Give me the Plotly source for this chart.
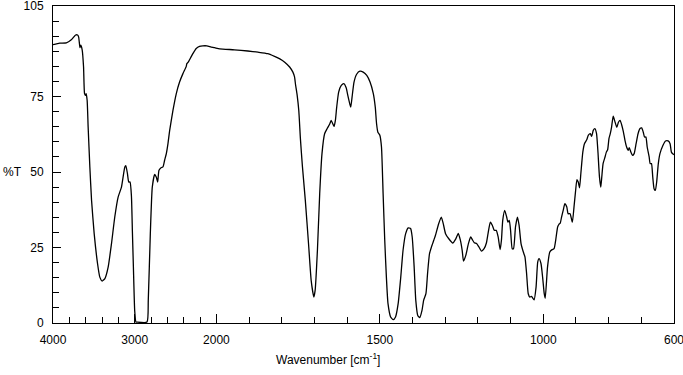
import plotly.graph_objects as go

# Spectrum data (wavenumber cm-1, %T)
wavenumber = [
    4000, 3918, 3837, 3776, 3723, 3699, 3686, 3670, 3661, 3643, 3626, 3614, 3602, 3594, 3582, 3570,
    3549, 3528, 3496, 3455, 3427, 3398, 3365, 3325, 3284, 3244, 3203, 3162, 3121, 3109, 3089, 3073,
    3057, 3040, 3028, 3016, 3000, 2985, 2979, 2850, 2834, 2809, 2785, 2756, 2735, 2719, 2703, 2674,
    2654, 2634, 2613, 2593, 2572, 2532, 2491, 2451, 2410, 2369, 2362, 2345, 2329, 2288, 2247, 2207,
    2166, 2117, 2064, 2024, 1990, 1945, 1904, 1873, 1843, 1822, 1806, 1791, 1776, 1766, 1761, 1758,
    1753, 1748, 1743, 1737, 1728, 1718, 1710, 1702, 1698, 1691, 1684, 1677, 1669, 1661, 1653, 1649,
    1644, 1640, 1636, 1632, 1626, 1618, 1610, 1603, 1598, 1592, 1589, 1585, 1579, 1571, 1561, 1551,
    1540, 1530, 1520, 1514, 1510, 1506, 1500, 1495, 1490, 1485, 1480, 1475, 1467, 1459, 1452, 1444,
    1436, 1429, 1421, 1413, 1406, 1401, 1395, 1390, 1384, 1378, 1371, 1366, 1359, 1354, 1348, 1342,
    1335, 1330, 1320, 1312, 1306, 1299, 1289, 1277, 1268, 1260, 1254, 1248, 1244, 1237, 1229, 1222,
    1217, 1211, 1204, 1197, 1189, 1181, 1174, 1169, 1162, 1156, 1150, 1144, 1138, 1132, 1128, 1124,
    1118, 1112, 1108, 1104, 1100, 1095, 1091, 1085, 1079, 1074, 1068, 1061, 1056, 1051, 1046, 1041,
    1036, 1028, 1022, 1017, 1013, 1007, 1002, 997, 994, 987, 980, 973, 967, 962, 956, 952,
    948, 944, 939, 934, 928, 924, 918, 911, 906, 901, 897, 893, 889, 885, 879, 874,
    867, 862, 856, 852, 847, 842, 837, 833, 828, 824, 821, 817, 811, 807, 803, 799,
    795, 791, 786, 781, 775, 770, 765, 760, 755, 750, 745, 740, 737, 732, 727, 722,
    716, 710, 704, 699, 694, 690, 686, 682, 676, 673, 669, 665, 661, 657, 653, 648,
    643, 634, 626, 618, 612, 608, 602, 600,
]
transmittance = [
    92.2, 92.7, 92.8, 93.8, 95.4, 95.4, 94.7, 91.2, 92.0, 90.5, 84.8, 76.0, 75.4, 76.0, 73.7, 64.9,
    51.7, 40.6, 29.6, 19.7, 15.2, 13.9, 14.7, 18.5, 26.3, 35.1, 41.7, 45.0, 51.7, 52.1, 49.5, 46.7,
    46.7, 42.0, 30.0, 18.5, 4.0, 0.3, 0.3, 0.3, 7.5, 29.6, 45.0, 49.2, 48.3, 46.7, 50.6, 51.5,
    51.7, 53.9, 56.1, 59.4, 63.8, 70.4, 76.0, 79.8, 82.6, 85.0, 85.9, 86.4, 87.2, 89.2, 90.9, 91.6,
    91.8, 91.8, 91.4, 91.2, 90.8, 90.5, 90.1, 89.7, 89.2, 88.3, 87.5, 86.4, 84.8, 83.1, 81.5, 79.0,
    75.5, 70.4, 61.0, 52.0, 40.6, 26.0, 14.0, 8.6, 10.8, 24.1, 42.8, 56.1, 62.7, 64.4, 66.0, 67.1,
    66.0, 65.1, 67.1, 71.5, 76.5, 78.7, 79.3, 77.9, 75.4, 72.6, 71.5, 74.8, 79.8, 82.4, 83.4, 83.1,
    82.0, 79.8, 76.0, 71.5, 66.0, 63.2, 62.2, 58.3, 42.8, 27.4, 15.2, 6.4, 2.0, 1.1, 2.0, 6.4,
    15.2, 24.1, 29.6, 31.5, 31.3, 28.5, 18.5, 7.5, 2.5, 1.8, 4.2, 7.5, 9.7, 16.4, 23.0, 25.2,
    27.4, 29.0, 32.9, 35.1, 32.9, 29.6, 27.9, 26.5, 27.8, 29.7, 27.6, 24.0, 20.5, 22.4, 26.3, 28.5,
    27.6, 26.6, 26.3, 25.2, 23.8, 24.6, 26.5, 29.6, 33.4, 32.4, 30.7, 30.7, 28.5, 24.3, 27.4, 34.0,
    37.3, 35.1, 33.4, 34.0, 30.7, 24.6, 24.6, 31.8, 35.1, 32.4, 26.3, 23.5, 21.9, 16.4, 9.7, 8.6,
    8.8, 7.7, 11.9, 20.2, 21.3, 19.7, 15.2, 9.7, 8.2, 18.5, 23.5, 24.3, 24.6, 27.4, 31.8, 32.7,
    33.1, 35.1, 37.3, 39.5, 38.4, 36.2, 36.2, 33.4, 38.4, 43.9, 47.5, 46.7, 44.8, 49.5, 56.6, 59.4,
    60.7, 62.2, 62.7, 61.8, 63.8, 64.4, 62.7, 57.2, 48.3, 45.0, 48.3, 52.8, 55.0, 56.6, 57.4, 61.1,
    62.7, 64.9, 68.5, 66.8, 64.8, 66.5, 67.1, 65.6, 63.4, 60.5, 58.3, 57.2, 58.1, 56.6, 55.5, 56.1,
    59.4, 62.7, 64.4, 64.6, 63.2, 61.6, 61.6, 58.3, 55.0, 52.8, 52.8, 48.3, 44.5, 43.9, 46.7, 52.8,
    56.1, 58.8, 60.3, 60.3, 59.4, 56.6, 55.9, 55.8,
]

x_label_values = [4000, 3000, 2000, 1500, 1000, 600]
x_minor_values = [3800, 3600, 3400, 3200, 3000, 2800, 2600, 2400, 2200,
                  1900, 1800, 1700, 1600, 1400, 1300, 1200, 1100, 900, 800, 700]
y_label_values = [0, 25, 50, 75, 105]
y_minor_values = [5, 10, 15, 20, 30, 35, 40, 45, 55, 60, 65, 70, 80, 85, 90, 95, 100]


def to_axis(w):
    # piecewise-linear wavenumber axis: 4000-2000 compressed 4x relative to 2000-600
    return (4000 - w) / 4.0 if w >= 2000 else 500 + (2000 - w)


fig = go.Figure()
fig.add_trace(go.Scatter(
    x=[to_axis(w) for w in wavenumber], y=transmittance,
    mode="lines", line=dict(color="black", width=1.3, shape="spline", smoothing=0.5),
    hoverinfo="skip", showlegend=False, cliponaxis=True,
))

font = dict(family="Liberation Sans, Arial, sans-serif", size=12, color="black")

fig.update_layout(
    width=683, height=375,
    margin=dict(l=53, r=9, t=6, b=52),
    paper_bgcolor="white", plot_bgcolor="white",
    font=font,
    xaxis=dict(
        range=[0, 1900], showgrid=False, zeroline=False, automargin=False,
        showline=True, mirror=True, linecolor="black", linewidth=1,
        tickmode="array", tickvals=[to_axis(w) for w in x_label_values],
        ticktext=[str(w) for w in x_label_values],
        ticks="inside", ticklen=9, tickcolor="black", tickwidth=1,
        ticklabelstandoff=6, ticklabeloverflow="allow",
        minor=dict(tickmode="array", tickvals=[to_axis(w) for w in x_minor_values],
                   ticks="inside", ticklen=6, tickcolor="black", tickwidth=1, showgrid=False),
    ),
    yaxis=dict(
        range=[0, 105], showgrid=False, zeroline=False, automargin=False,
        showline=True, mirror=True, linecolor="black", linewidth=1,
        tickmode="array", tickvals=y_label_values,
        ticktext=[str(v) for v in y_label_values],
        ticks="inside", ticklen=8, tickcolor="black", tickwidth=1,
        ticklabelstandoff=6, ticklabeloverflow="allow",
        minor=dict(tickmode="array", tickvals=y_minor_values,
                   ticks="inside", ticklen=6, tickcolor="black", tickwidth=1, showgrid=False),
    ),
    annotations=[
        dict(text="%T", xref="paper", yref="y", x=-0.066, y=50, xanchor="center",
             yanchor="middle", showarrow=False, font=font),
        dict(text="Wavenumber [cm<sup>-1</sup>]", xref="paper", yref="paper",
             x=0.443, y=0, yshift=-36, xanchor="center", yanchor="middle",
             showarrow=False, font=font),
    ],
)

fig.write_html(
    "out.html",
    config={"displayModeBar": False, "staticPlot": True},
    post_script="document.body.style.margin='0';document.body.style.overflow='hidden';",
)
